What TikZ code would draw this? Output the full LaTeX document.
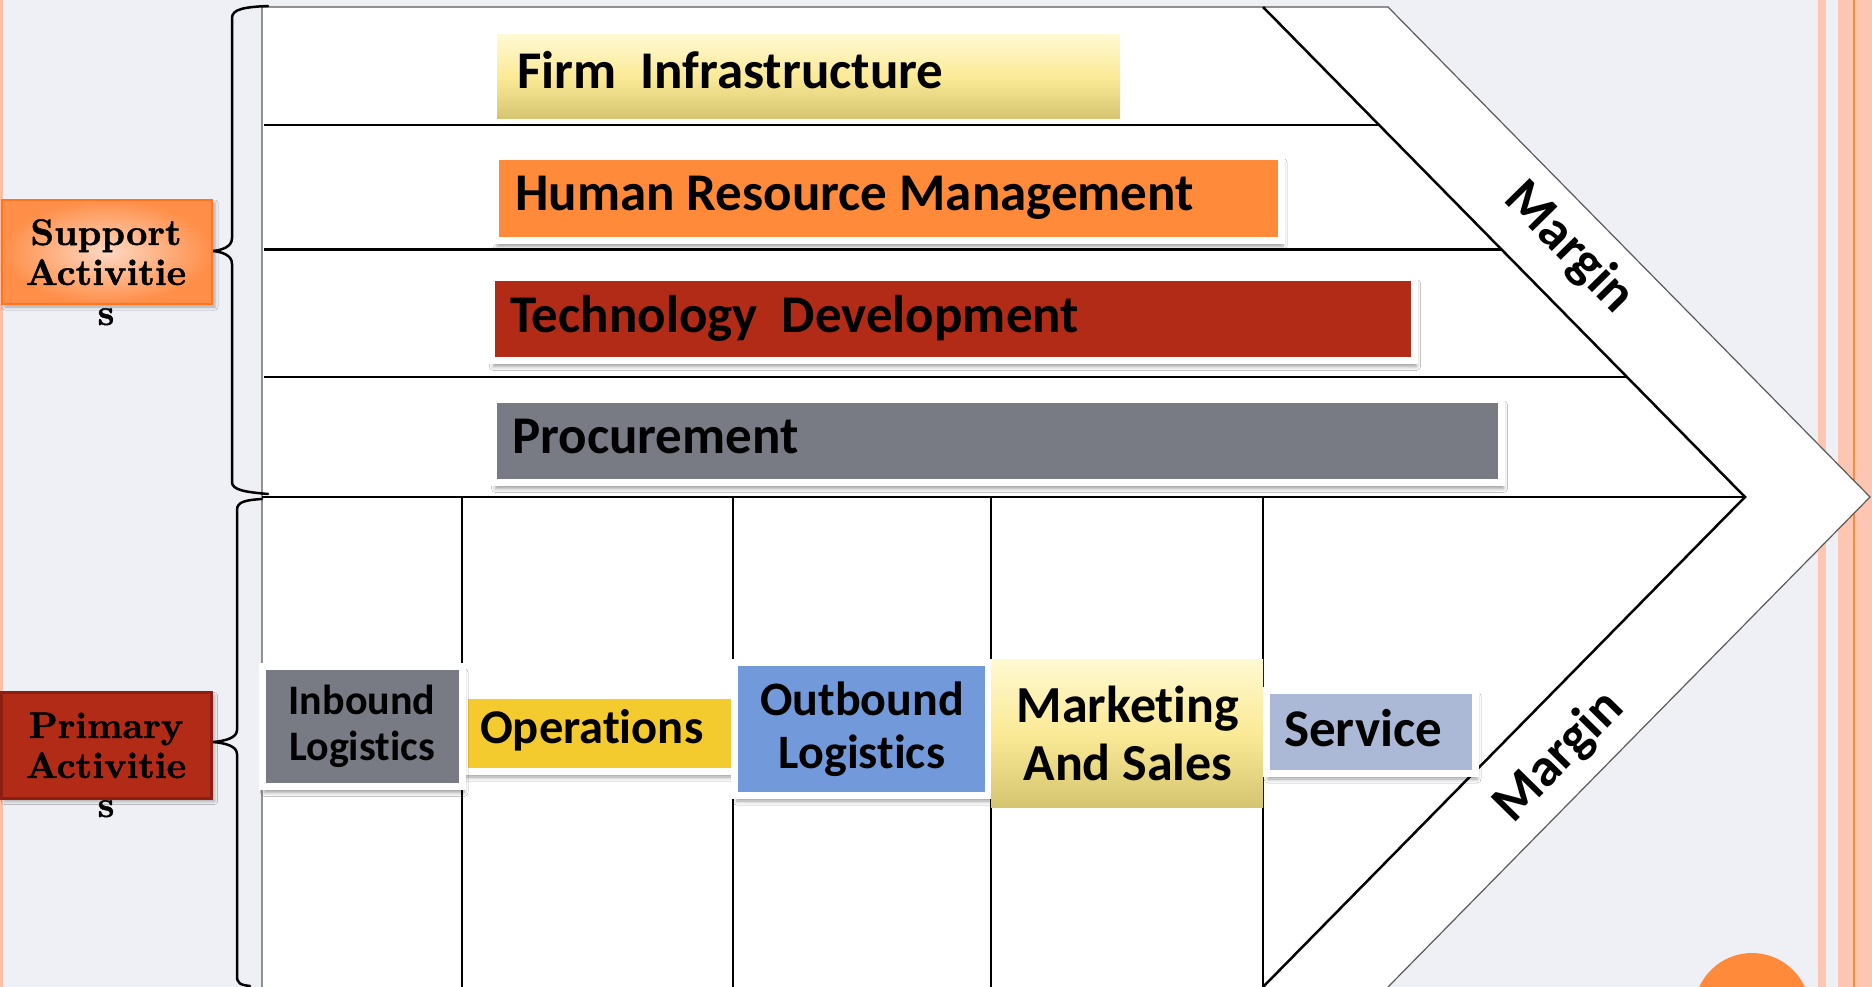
\documentclass[tikz,border=0pt]{standalone}
\usepackage{fontspec}
\newfontfamily\carlito{Carlito}[Ligatures=NoCommon]
\newfontfamily\sideserif{lmroman10-bold.otf}[FakeBold=1.2]
\usetikzlibrary{shadows.blur}
\definecolor{bgc}{RGB}{239,240,246}
\definecolor{stripe}{RGB}{252,198,178}
\definecolor{stripeL}{RGB}{253,190,165}
\definecolor{orng}{RGB}{255,138,58}
\definecolor{hrmc}{RGB}{254,138,58}
\definecolor{techc}{RGB}{178,43,23}
\definecolor{procc}{RGB}{120,123,132}
\definecolor{opc}{RGB}{244,203,46}
\definecolor{outc}{RGB}{114,154,219}
\definecolor{servc}{RGB}{171,185,215}
\definecolor{goldT}{RGB}{255,249,210}
\definecolor{goldM}{RGB}{251,234,150}
\definecolor{goldB}{RGB}{214,197,112}
\definecolor{supIn}{RGB}{255,216,194}
\definecolor{supOut}{RGB}{255,142,72}
\definecolor{supBd}{RGB}{255,118,32}
\definecolor{priBd}{RGB}{140,30,18}
\definecolor{edgec}{RGB}{90,90,90}
\newcommand\fsz[1]{\fontsize{#1}{#1}\selectfont}
\begin{document}
\begin{tikzpicture}[x=1pt,y=-1pt,
  lbl/.style={inner sep=0pt, text=black},
  side/.style={font=\sideserif\fsz{37}, inner sep=0pt, text=black, anchor=base},
  wbox/.style={draw=white, line width=7pt, inner sep=0pt,
     blur shadow={shadow xshift=2pt, shadow yshift=-6pt, shadow blur radius=4pt, shadow opacity=40}},
  gold/.style={top color=goldT, bottom color=goldB, middle color=goldM, inner sep=0pt, draw=none},
  sepline/.style={line width=2.2pt, black},
  brc/.style={line width=2.5pt, black, line cap=round},
  margintext/.style={font=\carlito\bfseries\fsz{54}, inner sep=0pt, text=black},
]
\useasboundingbox (0,0) rectangle (1872,987);
\clip (0,0) rectangle (1872,987);
% background
\fill[bgc] (0,0) rectangle (1872,987);
\fill[stripeL] (0,0) rectangle (3,987);
\fill[stripe] (1818,0) rectangle (1826,987);
\fill[stripe] (1838,0) rectangle (1872,987);
\fill[orng] (1853,0) rectangle (1855,987);
\fill[orng] (1752,1011) circle[radius=58pt];
% chevron
\coordinate (TL) at (262,7);
\coordinate (OT) at (1388,7);
\coordinate (OTip) at (1870,497);
\coordinate (OB) at (1388,987);
\coordinate (BL) at (262,987);
\coordinate (IT) at (1263,7);
\coordinate (ITip) at (1745,497);
\coordinate (IB) at (1263,987);
\fill[white] (TL) -- (OT) -- (OTip) -- (OB) -- (BL) -- cycle;
\draw[edgec, line width=1.2pt] (BL) -- (TL) -- (OT) -- (OTip) -- (OB);
% separators
\coordinate (h1a) at (264,125);   \coordinate (h1b) at (1379,125);
\coordinate (h2a) at (264,249.5); \coordinate (h2b) at (1501.5,249.5);
\coordinate (h3a) at (264,377);   \coordinate (h3b) at (1627,377);
\coordinate (h4a) at (262,497);
\draw[sepline] (h1a) -- (h1b);
\draw[sepline] (h2a) -- (h2b);
\draw[sepline] (h3a) -- (h3b);
\draw[sepline] (h4a) -- (ITip);
\coordinate (v1a) at (462,497);  \coordinate (v1b) at (462,987);
\coordinate (v2a) at (733,497);  \coordinate (v2b) at (733,987);
\coordinate (v3a) at (991,497);  \coordinate (v3b) at (991,987);
\coordinate (v4a) at (1263,497);
\draw[sepline] (v1a) -- (v1b);
\draw[sepline] (v2a) -- (v2b);
\draw[sepline] (v3a) -- (v3b);
\draw[sepline] (v4a) -- (IB);
\draw[line width=2.5pt, line join=miter] (IT) -- (ITip) -- (IB);
% braces
\draw[brc] (268,6) .. controls (245,7) and (232,9) .. (232,18) -- (232,238)
  .. controls (232,247) and (222,250) .. (213,251)
  .. controls (222,252) and (232,255) .. (232,264) -- (232,482)
  .. controls (232,490) and (245,492) .. (268,494);
\draw[brc] (262,499) .. controls (245,500) and (237,502) .. (237,510) -- (237,730)
  .. controls (237,738) and (225,741) .. (213,742)
  .. controls (225,743) and (237,746) .. (237,754) -- (237,976)
  .. controls (237,983) and (240,985) .. (250,986);
% left labels
\node[draw=supBd, line width=2pt, shading=radial, inner color=supIn, outer color=supOut,
  minimum width=210pt, minimum height=104pt, inner sep=0pt,
  blur shadow={shadow xshift=3pt, shadow yshift=-3pt, shadow blur radius=3pt, shadow opacity=30}] (supbox) at (107,252) {};
\node[fill=techc, draw=priBd, line width=3pt, minimum width=210pt, minimum height=106pt, inner sep=0pt,
  blur shadow={shadow xshift=3pt, shadow yshift=-3pt, shadow blur radius=3pt, shadow opacity=30}] (pribox) at (106.5,745.5) {};
\node[side] (sup1) at (106,245) {Support};
\node[side] (sup2) at (106,285) {Activitie};
\node[side] (sup3) at (106,325) {s};
\node[side] (pri1) at (106,738) {Primary};
\node[side] (pri2) at (106,778) {Activitie};
\node[side] (pri3) at (106,817) {s};
% support activity boxes
\node[gold, minimum width=623pt, minimum height=84pt] (firm) at (808.5,77) {};
\node[wbox, fill=hrmc, minimum width=786pt, minimum height=84pt] (hrm) at (888,198.5) {};
\node[wbox, fill=techc, minimum width=923pt, minimum height=83pt] (tech) at (953,319) {};
\node[wbox, fill=procc, minimum width=1008pt, minimum height=83.5pt] (proc) at (997.5,440.75) {};
\node[lbl, font=\carlito\bfseries\fsz{53}, anchor=base west] (firmt) at (517,89) {Firm\ \ Infrastructure};
\node[lbl, font=\carlito\bfseries\fsz{53}, anchor=base west] (hrmt) at (515,211) {Human Resource Management};
\node[lbl, font=\carlito\bfseries\fsz{53}, anchor=base west] (techt) at (510,332) {Technology\ \ Development};
\node[lbl, font=\carlito\bfseries\fsz{53}, anchor=base west] (proct) at (512,453) {Procurement};
% primary activity boxes
\node[wbox, fill=opc, minimum width=270.5pt, minimum height=76pt] (ops) at (599.25,733) {};
\node[wbox, fill=procc, minimum width=199.5pt, minimum height=120pt] (inb) at (362.25,726.5) {};
\node[wbox, fill=outc, minimum width=254pt, minimum height=133pt] (outb) at (861.5,728.5) {};
\node[gold, minimum width=272pt, minimum height=148pt] (mkt) at (1127,733) {};
\node[wbox, fill=servc, minimum width=209pt, minimum height=83pt] (serv) at (1370.5,731.5) {};
\node[lbl, font=\carlito\bfseries\fsz{42}, anchor=base] (inbt1) at (362,714) {Inbound};
\node[lbl, font=\carlito\bfseries\fsz{42}, anchor=base] (inbt2) at (362,760.5) {Logistics};
\node[lbl, font=\carlito\bfseries\fsz{48.5}, anchor=base west] (opst) at (480,743) {Operations};
\node[lbl, font=\carlito\bfseries\fsz{48}, anchor=base] (outt1) at (862,715) {Outbound};
\node[lbl, font=\carlito\bfseries\fsz{48}, anchor=base] (outt2) at (862,768) {Logistics};
\node[lbl, font=\carlito\bfseries\fsz{52}, anchor=base] (mktt1) at (1128,722) {Marketing};
\node[lbl, font=\carlito\bfseries\fsz{52}, anchor=base] (mktt2) at (1128,780) {And Sales};
\node[lbl, font=\carlito\bfseries\fsz{53}, anchor=base west] (servt) at (1284,746) {Service};
% margin labels
\node[margintext, rotate=-45.5] (mg1) at (1569,248) {Margin};
\node[margintext, rotate=45.5] (mg2) at (1559,757) {Margin};
\end{tikzpicture}
\end{document}
